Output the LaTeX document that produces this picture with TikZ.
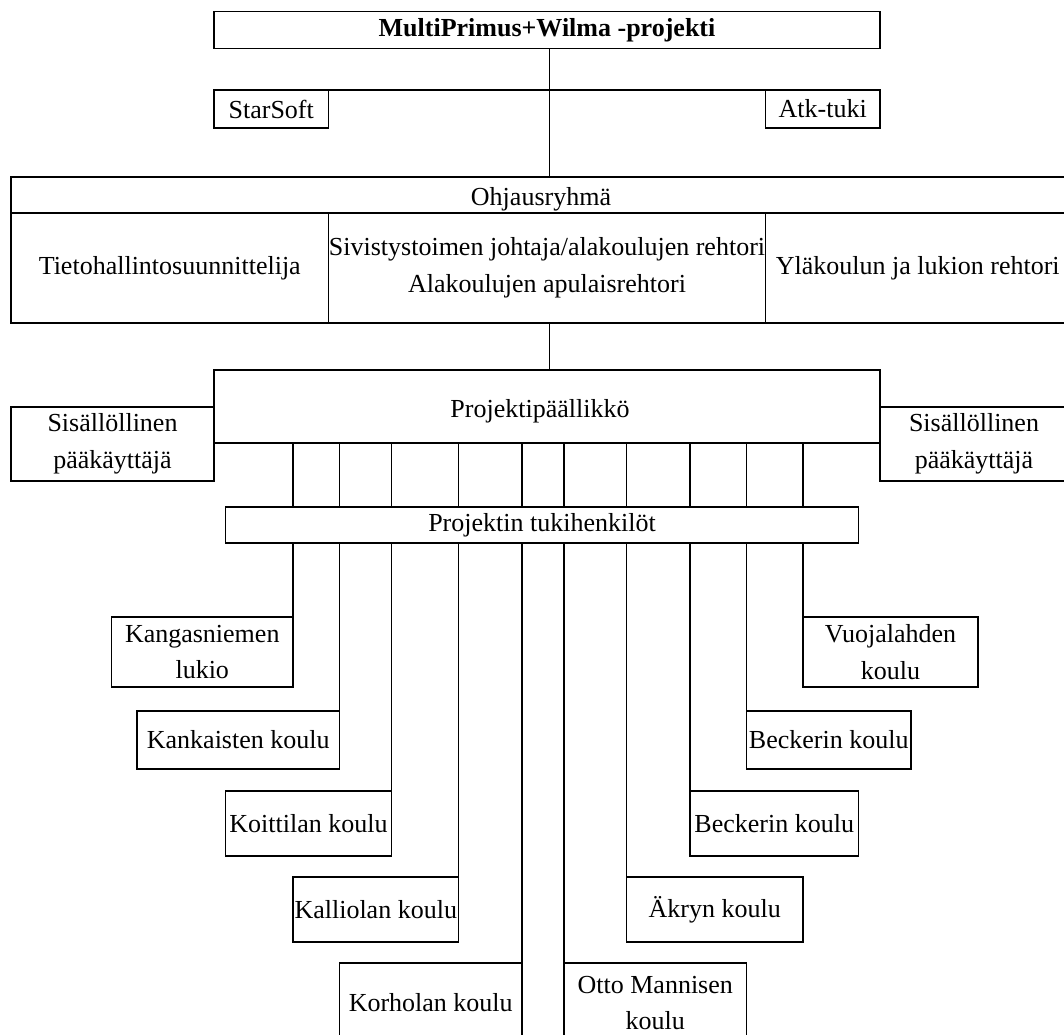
\documentclass[tikz,border=0pt]{standalone}
\usepackage{fontspec}
\setmainfont{Liberation Serif}
\begin{document}
\begin{tikzpicture}[x=0.75pt,y=-0.75pt,
  boxst/.style={draw=black,line width=1.35pt,fill=white,inner sep=0pt,outer sep=0pt,
    align=center,font=\fontsize{19.5}{27.5}\selectfont},
  conn/.style={draw=black,line width=1.35pt}]
\newcommand{\SchBox}[6]{%
  \node[boxst,minimum width={(#4-#2)*0.75pt},minimum height={(#5-#3)*0.75pt}]
    (#1) at ({(#2+#4)/2},{(#3+#5)/2}) {#6};}
\useasboundingbox (0,0) rectangle (1064,1035);
\clip (0,0) rectangle (1064,1035);
% top
\SchBox{top}{214}{11.5}{880}{48.5}{\textbf{MultiPrimus+Wilma -projekti}}
\SchBox{star}{214}{90}{328.5}{128}{StarSoft}
\SchBox{atk}{765.5}{90}{880}{128}{Atk-tuki}
% Ohjausryhmä
\SchBox{ohj}{11}{177}{1070}{213}{}
\node[font=\fontsize{19.5}{27.5}\selectfont] (ohjT) at (541,199) {Ohjausryhmä};
\SchBox{ohjA}{11}{213}{328.5}{323}{Tietohallintosuunnittelija}
\SchBox{ohjB}{328.5}{213}{765.5}{323}{Sivistystoimen johtaja/alakoulujen rehtori\\Alakoulujen apulaisrehtori}
\SchBox{ohjC}{765.5}{213}{1070}{323}{Yläkoulun ja lukion rehtori}
% Projektipäällikkö
\SchBox{pp}{214}{370}{880}{443}{}
\node[font=\fontsize{19.5}{27.5}\selectfont] (ppT) at (540,411) {Projektipäällikkö};
\SchBox{sisL}{11}{407}{214}{481}{Sisällöllinen\\pääkäyttäjä}
\SchBox{sisR}{880}{407}{1068}{481}{Sisällöllinen\\pääkäyttäjä}
% tukihenkilöt
\SchBox{tk}{225.5}{507}{858.5}{543}{Projektin tukihenkilöt}
% schools left
\SchBox{k1}{111.5}{617}{293}{687}{Kangasniemen\\lukio}
\SchBox{k2}{137}{711}{339.5}{769}{Kankaisten koulu}
\SchBox{k3}{225.5}{791}{391.5}{856}{Koittilan koulu}
\SchBox{k4}{293}{877}{458.5}{942}{Kalliolan koulu}
\SchBox{k5}{339.5}{963}{522}{1043}{Korholan koulu}
% schools right
\SchBox{r5}{564}{963}{746.5}{1043}{Otto Mannisen\\koulu}
\SchBox{r4}{626.5}{877}{803}{942}{Äkryn koulu}
\SchBox{r3}{690}{791}{858.5}{856}{Beckerin koulu}
\SchBox{r2}{746.5}{711}{911}{769}{Beckerin koulu}
\SchBox{r1}{803}{617}{978}{687}{Vuojalahden\\koulu}
% connectors
\coordinate (spine) at (549.5,0);
\draw[conn] (spine |- top.south) -- (spine |- ohj.north);
\draw[conn] (star.north east) -- (atk.north west);
\draw[conn] (spine |- ohjB.south) -- (spine |- pp.north);
\foreach \s/\c in {k1/north east,k2/north east,k3/north east,k4/north east,k5/north east,
                   r5/north west,r4/north west,r3/north west,r2/north west,r1/north west}{
  \draw[conn] (\s.\c |- pp.south) -- (\s.\c |- tk.north);
  \draw[conn] (\s.\c |- tk.south) -- (\s.\c);
}
\end{tikzpicture}
\end{document}
